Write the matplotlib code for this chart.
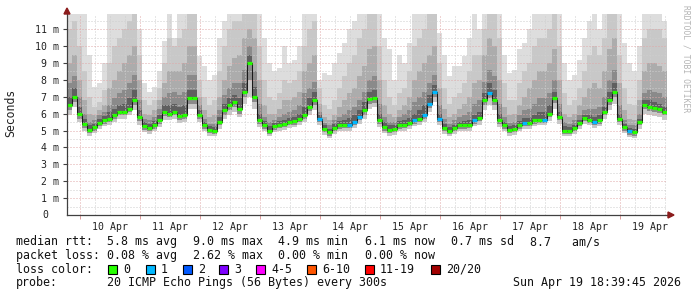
import numpy as np
import matplotlib
matplotlib.use("Agg")
import matplotlib.pyplot as plt
from matplotlib.patches import Polygon, Rectangle

W, H = 697, 297
FONT = "DejaVu Sans Mono"

# ---------------- data (2-hour bins, 9 Apr 19:00 -> 19 Apr 19:00) ----------------
median = [6.5, 7.0, 6.0, 5.4, 5.05, 5.2, 5.45, 5.6, 5.7, 5.9, 6.1, 6.1,
          6.3, 6.8, 5.8, 5.25, 5.15, 5.3, 5.6, 6.1, 6.0, 6.1, 5.85, 5.9,
          6.9, 6.9, 5.9, 5.3, 5.05, 5.0, 5.5, 6.2, 6.5, 6.7, 6.3, 7.3,
          9.0, 7.0, 5.6, 5.3, 5.0, 5.25, 5.35, 5.4, 5.5, 5.55, 5.7, 5.9,
          6.4, 6.8, 5.7, 5.1, 4.9, 5.15, 5.3, 5.35, 5.35, 5.5, 5.8, 6.2,
          6.85, 6.9, 5.6, 5.2, 5.05, 5.1, 5.3, 5.35, 5.45, 5.6, 5.7, 5.9,
          6.6, 7.3, 5.7, 5.15, 5.0, 5.15, 5.3, 5.3, 5.35, 5.6, 5.75, 6.8,
          7.2, 6.8, 5.6, 5.3, 5.05, 5.1, 5.3, 5.45, 5.45, 5.6, 5.65, 5.65,
          6.0, 6.9, 5.8, 5.0, 5.0, 5.15, 5.45, 5.75, 5.65, 5.5, 5.6, 6.1,
          6.8, 7.3, 5.7, 5.2, 4.95, 4.9, 5.5, 6.5, 6.4, 6.35, 6.3, 6.1]

loss = [0] * 120
for b in [50, 56, 57, 58, 69, 71, 72, 73, 74, 81, 84, 91, 95, 105, 112]:
    loss[b] = 1

smoke_hi1 = [11.9, 11.9, 11.9, 11.9, 9.5, 7.6, 7.8, 9.0, 11.9, 11.9, 11.9, 11.9,
             11.9, 11.9, 11.0, 7.8, 7.3, 7.6, 8.5, 10.3, 11.9, 10.5, 11.9, 11.9,
             11.9, 11.9, 9.4, 8.8, 8.0, 8.3, 10.5, 11.5, 11.9, 11.9, 11.9, 11.9,
             11.9, 11.9, 11.9, 10.5, 9.0, 8.5, 8.7, 10.0, 9.0, 9.2, 10.0, 11.9,
             11.9, 11.9, 8.0, 8.4, 8.3, 9.0, 9.6, 10.2, 11.0, 11.5, 11.9, 11.9,
             11.9, 11.9, 11.9, 10.5, 9.8, 8.0, 9.5, 9.0, 10.2, 11.9, 11.9, 11.9,
             11.9, 11.9, 10.8, 9.5, 8.2, 8.8, 8.8, 9.4, 10.5, 11.9, 11.0, 11.9,
             11.9, 11.9, 11.9, 9.5, 8.4, 8.6, 9.8, 10.2, 11.0, 11.9, 11.9, 11.9,
             11.9, 11.9, 11.9, 9.0, 8.0, 8.3, 9.2, 10.5, 11.5, 11.9, 11.0, 11.9,
             11.9, 11.9, 11.9, 10.2, 9.0, 8.5, 10.0, 11.9, 11.9, 11.9, 11.9, 11.5]

smoke_hi2 = [11.0, 11.5, 10.0, 8.5, 7.0, 6.4, 6.7, 7.4, 9.0, 10.0, 10.5, 11.0,
             11.5, 11.9, 9.5, 6.8, 6.5, 6.8, 7.5, 9.0, 10.5, 10.0, 10.5, 11.0,
             11.9, 11.9, 8.0, 7.0, 6.5, 6.8, 8.5, 10.0, 11.0, 11.5, 11.5, 11.9,
             11.9, 11.9, 10.0, 8.0, 7.0, 6.8, 7.2, 8.0, 7.8, 8.0, 8.5, 10.0,
             11.0, 11.5, 7.5, 6.5, 6.3, 6.8, 7.5, 8.2, 9.0, 9.5, 10.5, 11.0,
             11.9, 11.9, 10.0, 8.0, 7.0, 6.5, 7.2, 7.5, 8.5, 10.0, 10.5, 11.0,
             11.9, 11.9, 9.0, 7.5, 6.6, 7.0, 7.2, 7.8, 8.5, 9.5, 9.5, 11.0,
             11.9, 11.9, 10.5, 7.8, 6.8, 6.8, 7.8, 8.5, 9.0, 10.0, 10.5, 10.5,
             11.0, 11.9, 10.0, 7.2, 6.5, 6.8, 7.5, 8.5, 9.5, 10.0, 9.5, 10.5,
             11.9, 11.9, 9.5, 7.5, 6.6, 6.5, 8.0, 10.5, 11.0, 11.0, 11.0, 10.5]

smoke_hi3 = [9.0, 9.5, 8.0, 6.8, 6.0, 5.9, 6.2, 6.5, 7.5, 8.0, 8.5, 9.0,
             9.5, 10.0, 8.0, 6.0, 5.9, 6.2, 6.8, 7.8, 8.5, 8.5, 8.5, 9.0,
             10.0, 10.0, 7.0, 6.2, 5.8, 5.9, 7.0, 8.0, 8.8, 9.3, 9.5, 10.5,
             11.0, 10.5, 8.0, 6.5, 6.0, 6.0, 6.3, 6.8, 6.8, 7.0, 7.3, 8.5,
             9.0, 9.5, 6.6, 5.8, 5.6, 5.9, 6.4, 6.8, 7.2, 7.5, 8.2, 8.8,
             9.8, 10.0, 8.0, 6.5, 6.0, 5.8, 6.2, 6.5, 7.0, 8.0, 8.5, 9.0,
             9.5, 10.0, 7.5, 6.3, 5.8, 6.0, 6.3, 6.6, 7.0, 7.8, 8.0, 9.5,
             10.5, 10.0, 8.0, 6.4, 5.9, 6.0, 6.5, 7.0, 7.5, 8.0, 8.5, 8.5,
             9.0, 9.8, 8.0, 6.0, 5.8, 6.0, 6.5, 7.0, 7.5, 7.8, 7.5, 8.5,
             9.8, 10.5, 7.8, 6.2, 5.7, 5.6, 6.8, 8.5, 9.0, 9.0, 8.8, 8.5]

smoke_hi4 = [7.8, 8.2, 7.0, 6.0, 5.5, 5.6, 5.9, 6.1, 6.5, 6.9, 7.2, 7.4,
             7.8, 8.3, 6.8, 5.7, 5.6, 5.8, 6.3, 7.0, 7.2, 7.3, 7.1, 7.3,
             8.3, 8.3, 6.5, 5.7, 5.4, 5.4, 6.2, 7.1, 7.5, 7.8, 7.8, 8.6,
             10.0, 8.5, 6.6, 5.8, 5.5, 5.65, 5.8, 6.0, 6.1, 6.2, 6.5, 7.2,
             7.5, 7.9, 6.1, 5.45, 5.3, 5.6, 5.8, 6.0, 6.2, 6.4, 6.8, 7.3,
             8.0, 8.2, 6.6, 5.8, 5.5, 5.5, 5.8, 6.0, 6.2, 6.7, 7.0, 7.3,
             7.8, 8.3, 6.5, 5.7, 5.4, 5.6, 5.8, 5.9, 6.1, 6.6, 6.8, 7.9,
             8.6, 8.2, 6.6, 5.8, 5.45, 5.5, 5.9, 6.2, 6.3, 6.6, 6.9, 6.9,
             7.2, 8.0, 6.6, 5.5, 5.4, 5.6, 5.9, 6.2, 6.3, 6.3, 6.4, 7.0,
             8.0, 8.6, 6.5, 5.6, 5.3, 5.3, 6.0, 7.2, 7.4, 7.3, 7.2, 7.0]

smoke_hi5 = [7.0, 7.5, 6.4, 5.7, 5.3, 5.4, 5.7, 5.85, 6.1, 6.3, 6.5, 6.6,
             6.9, 7.4, 6.2, 5.5, 5.4, 5.55, 5.9, 6.5, 6.5, 6.6, 6.4, 6.5,
             7.4, 7.4, 6.2, 5.5, 5.25, 5.2, 5.8, 6.6, 6.9, 7.1, 6.9, 7.8,
             9.5, 7.6, 6.0, 5.55, 5.25, 5.45, 5.55, 5.65, 5.75, 5.8, 6.0, 6.4,
             6.9, 7.3, 5.95, 5.3, 5.1, 5.4, 5.55, 5.65, 5.75, 5.9, 6.2, 6.7,
             7.3, 7.4, 6.0, 5.5, 5.3, 5.3, 5.55, 5.6, 5.75, 6.0, 6.2, 6.5,
             7.1, 7.7, 6.0, 5.4, 5.2, 5.35, 5.5, 5.55, 5.6, 5.9, 6.1, 7.2,
             7.8, 7.4, 6.0, 5.5, 5.25, 5.3, 5.55, 5.75, 5.75, 5.95, 6.1, 6.1,
             6.5, 7.3, 6.1, 5.25, 5.2, 5.35, 5.65, 5.95, 5.9, 5.8, 5.9, 6.4,
             7.3, 7.8, 6.0, 5.4, 5.15, 5.1, 5.7, 6.8, 6.8, 6.7, 6.6, 6.4]

smoke_lo2 = [6.2, 6.7, 5.7, 5.15, 4.85, 5.0, 5.25, 5.4, 5.5, 5.7, 5.9, 5.9,
             6.1, 6.5, 5.55, 5.05, 4.95, 5.1, 5.4, 5.85, 5.8, 5.9, 5.65, 5.7,
             6.6, 6.6, 5.7, 5.1, 4.85, 4.8, 5.3, 5.95, 6.2, 6.4, 6.0, 7.0,
             8.0, 6.7, 5.4, 5.1, 4.8, 5.05, 5.15, 5.2, 5.3, 5.35, 5.5, 5.7,
             6.15, 6.5, 5.5, 4.9, 4.7, 4.95, 5.1, 5.15, 5.15, 5.3, 5.6, 5.95,
             6.6, 6.65, 5.4, 5.0, 4.85, 4.9, 5.1, 5.15, 5.25, 5.4, 5.5, 5.7,
             6.35, 7.0, 5.5, 4.95, 4.8, 4.95, 5.1, 5.1, 5.15, 5.4, 5.55, 6.5,
             6.9, 6.5, 5.4, 5.1, 4.85, 4.9, 5.1, 5.25, 5.25, 5.4, 5.45, 5.45,
             5.8, 6.65, 5.6, 4.8, 4.8, 4.95, 5.25, 5.55, 5.45, 5.3, 5.4, 5.9,
             6.5, 7.0, 5.5, 5.0, 4.75, 4.7, 5.3, 6.25, 6.15, 6.1, 6.05, 5.9]

smoke_lo1 = [5.9, 6.4, 5.5, 5.0, 4.7, 4.85, 5.1, 5.25, 5.35, 5.5, 5.7, 5.7,
             5.9, 6.2, 5.35, 4.9, 4.8, 4.95, 5.2, 5.6, 5.6, 5.7, 5.45, 5.5,
             6.3, 6.3, 5.5, 4.95, 4.7, 4.65, 5.1, 5.7, 5.95, 6.1, 5.8, 6.6,
             7.0, 6.3, 5.2, 4.95, 4.65, 4.9, 5.0, 5.05, 5.15, 5.2, 5.3, 5.5,
             5.9, 6.2, 5.3, 4.75, 4.55, 4.8, 4.95, 5.0, 5.0, 5.15, 5.4, 5.7,
             6.3, 6.4, 5.2, 4.85, 4.7, 4.75, 4.95, 5.0, 5.1, 5.25, 5.35, 5.5,
             6.1, 6.7, 5.3, 4.8, 4.65, 4.8, 4.95, 4.95, 5.0, 5.25, 5.35, 6.2,
             6.5, 6.2, 5.2, 4.95, 4.7, 4.75, 4.95, 5.1, 5.1, 5.25, 5.3, 5.3,
             5.55, 6.3, 5.4, 4.65, 4.65, 4.8, 5.1, 5.4, 5.3, 5.15, 5.25, 5.7,
             6.2, 6.6, 5.3, 4.85, 4.6, 4.55, 5.1, 6.0, 5.9, 5.85, 5.8, 5.65]

day_labels = ["10 Apr", "11 Apr", "12 Apr", "13 Apr", "14 Apr",
              "15 Apr", "16 Apr", "17 Apr", "18 Apr", "19 Apr"]
ytick_labels = ["0", "1 m", "2 m", "3 m", "4 m", "5 m", "6 m", "7 m",
                "8 m", "9 m", "10 m", "11 m"]

loss_keys = ["0", "1", "2", "3", "4-5", "6-10", "11-19", "20/20"]
loss_cols = ["#26ff00", "#00b8ff", "#0059ff", "#7e00ff", "#ff00ff",
             "#ff5500", "#ff0000", "#a10000"]

stats_rtt = ["median rtt:  5.8 ms avg", "9.0 ms max", "4.9 ms min",
             "6.1 ms now", "0.7 ms sd", "8.7   am/s"]
stats_loss = ["packet loss: 0.08 % avg", "2.62 % max", "0.00 % min",
              "0.00 % now"]
probe_text = "20 ICMP Echo Pings (56 Bytes) every 300s"
date_text = "Sun Apr 19 18:39:45 2026"

# ---------------- figure ----------------
fig = plt.figure(figsize=(W / 100, H / 100), dpi=100)
fig.patch.set_facecolor("white")
X0, X1, YT, YB = 67, 667, 14, 215
ax = fig.add_axes([X0 / W, 1 - YB / H, (X1 - X0) / W, (YB - YT) / H])
ax.set_facecolor("white")
n = len(median)
edges = np.arange(n + 1) * 2.0  # hours since start
ax.set_xlim(0, 2.0 * n)
ax.set_ylim(0, 11.9)


def ext(a):
    a = np.asarray(a, dtype=float)
    return np.append(a, a[-1])


bands = [
    (smoke_lo1, smoke_hi1, "#dddddd"),
    (smoke_lo1, smoke_hi2, "#c8c8c8"),
    (smoke_lo2, smoke_hi3, "#acacac"),
    (smoke_lo2, smoke_hi4, "#8a8a8a"),
    (median, smoke_hi5, "#5f5f5f"),
]
for lo, hi, c in bands:
    ax.fill_between(edges, ext(lo), ext(hi), step="post", color=c,
                    lw=0, zorder=1)

# grid
dot = (0, (1, 2))
for h in np.arange(5, 2.0 * n, 6):
    major = (h - 5) % 24 == 0
    ax.axvline(h, color="#e0a8a8" if major else "#cfcfcf", lw=0.72,
               ls=dot, zorder=2)
for k in range(1, 24):
    yv = k * 0.5
    major = k % 2 == 0
    ax.axhline(yv, color="#e0a8a8" if major else "#cfcfcf", lw=0.72,
               ls=dot, zorder=2)

# median line
ax.step(edges, ext(median), where="post", color="#1a1a1a", lw=0.75, zorder=3)
ax.hlines(median, edges[:-1], edges[1:],
          colors=[loss_cols[l] for l in loss], lw=2.3, zorder=4,
          capstyle="butt")

# axes styling
for s in ["top", "right"]:
    ax.spines[s].set_visible(False)
for s in ["left", "bottom"]:
    ax.spines[s].set_color("#404040")
    ax.spines[s].set_linewidth(0.9)
    ax.spines[s].set_zorder(5)

ax.set_yticks(range(1, 12))
ax.set_yticklabels(ytick_labels[1:], fontfamily=FONT, fontsize=7.1,
                   color="#222222")
ax.tick_params(axis="y", length=3, width=0.8, color="#404040", pad=3.0)

ax.set_xticks(np.arange(17, 2.0 * n, 24))
ax.set_xticklabels(day_labels, fontfamily=FONT, fontsize=7.1,
                   color="#222222")
ax.tick_params(axis="x", length=0, pad=5)
ax.set_xticks(np.arange(5, 2.0 * n, 24), minor=True)
ax.tick_params(axis="x", which="minor", length=3, width=0.7,
               color="#dd9a9a")

fig.text(45.5 / W, 1 - 215 / H, ytick_labels[0], ha="center", va="center",
         fontfamily=FONT, fontsize=7.1, color="#222222")

# arrows
fig.patches.append(Polygon([[(X0 - 3) / W, 1 - 14 / H], [(X0 + 3) / W, 1 - 14 / H],
                            [X0 / W, 1 - 8 / H]], closed=True,
                           transform=fig.transFigure, color="#8b1c1c",
                           zorder=10))
fig.patches.append(Polygon([[(X1 + 1) / W, 1 - 212 / H], [(X1 + 1) / W, 1 - 218 / H],
                            [(X1 + 7) / W, 1 - 215 / H]], closed=True,
                           transform=fig.transFigure, color="#8b1c1c",
                           zorder=10))
fig.lines.append(plt.Line2D([X1 / W, (X1 + 2) / W], [1 - 215 / H, 1 - 215 / H],
                            transform=fig.transFigure, color="#404040",
                            lw=0.9))

# labels
fig.text(11 / W, 1 - 113 / H, "Seconds", rotation=90, ha="center",
         va="center", fontfamily=FONT, fontsize=8.3, color="#222222")
fig.text(686 / W, 1 - 5 / H, "RRDTOOL / TOBI OETIKER", rotation=-90,
         ha="center", va="top", fontfamily=FONT, fontsize=5.8,
         color="#b4b4b4")

LF = 8.4
rows_y = [241.7, 255.3, 269.3, 282.3]
rtt_x = [16, 193, 278, 365, 451, 530]
for s, xp in zip(stats_rtt, rtt_x):
    fig.text(xp / W, 1 - rows_y[0] / H, s, ha="left", va="center",
             fontfamily=FONT, fontsize=LF, color="#111111")
loss_x = [16, 193, 278, 365]
for s, xp in zip(stats_loss, loss_x):
    fig.text(xp / W, 1 - rows_y[1] / H, s, ha="left", va="center",
             fontfamily=FONT, fontsize=LF, color="#111111")

fig.text(16 / W, 1 - rows_y[2] / H, "loss color:", ha="left", va="center",
         fontfamily=FONT, fontsize=LF, color="#111111")
box_x = [108, 146, 183, 219, 256, 307, 365, 431]
for key, col, bx in zip(loss_keys, loss_cols, box_x):
    fig.patches.append(Rectangle((bx / W, 1 - (rows_y[2] + 4.5) / H),
                                 9 / W, 9 / H, transform=fig.transFigure,
                                 facecolor=col, edgecolor="black", lw=0.8))
    fig.text((bx + 15) / W, 1 - rows_y[2] / H, key, ha="left", va="center",
             fontfamily=FONT, fontsize=LF, color="#111111")

fig.text(16 / W, 1 - rows_y[3] / H, "probe:", ha="left", va="center",
         fontfamily=FONT, fontsize=LF, color="#111111")
fig.text(107 / W, 1 - rows_y[3] / H, probe_text, ha="left", va="center",
         fontfamily=FONT, fontsize=LF, color="#111111")
fig.text(681 / W, 1 - rows_y[3] / H, date_text, ha="right", va="center",
         fontfamily=FONT, fontsize=LF, color="#111111")

fig.savefig("out.png", dpi=100, facecolor="white")
